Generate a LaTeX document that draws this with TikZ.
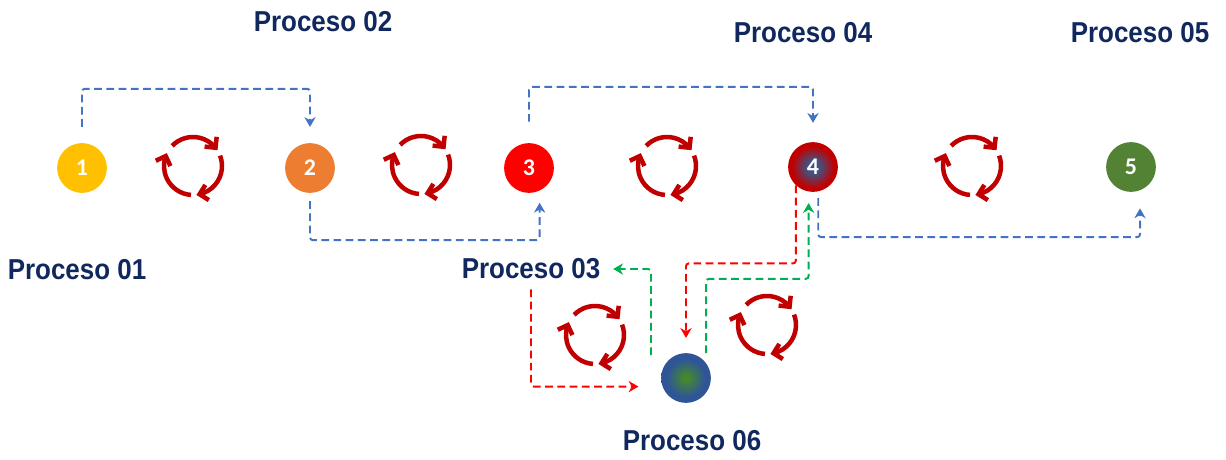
\documentclass[tikz,border=0pt]{standalone}
\usepackage{fontspec}
\usetikzlibrary{calc,arrows.meta}
\newfontfamily\fuenteEtiq[FakeStretch=0.9]{Liberation Sans}
\newfontfamily\fuenteNum{Carlito}
\definecolor{azultexto}{HTML}{11285E}
\definecolor{amarillo}{HTML}{FFC000}
\definecolor{naranja}{HTML}{ED7D31}
\definecolor{rojo}{HTML}{FF0000}
\definecolor{granate}{HTML}{C00000}
\definecolor{verde}{HTML}{548235}
\definecolor{azulproc}{HTML}{2F5597}
\definecolor{azulflecha}{HTML}{4472C4}
\definecolor{verdeflecha}{HTML}{00B050}
\definecolor{grisazul}{HTML}{44507E}
\definecolor{verdeclaro}{HTML}{458A2A}
\pgfdeclareradialshading{brillocuatro}{\pgfpoint{0bp}{0bp}}{color(0bp)=(grisazul); color(7bp)=(grisazul); color(21bp)=(granate); color(50bp)=(granate)}
\pgfdeclareradialshading{brilloseis}{\pgfpoint{0bp}{0bp}}{color(0bp)=(verdeclaro); color(2bp)=(verdeclaro); color(19bp)=(azulproc); color(50bp)=(azulproc)}

\tikzset{
  anillo/.style={draw=granate,line width=3.2pt},
  punta/.style={draw=granate,line width=3.2pt,line join=miter},
  ciclo/.pic={
    \begin{scope}[yscale=-1]
    \foreach \a/\b in {136/39,21/-77,-94/-200}{
      \draw[anillo] (\a:29) arc[start angle=\a,end angle=\b,radius=29];
      \draw[punta] ($(\b:29)+(\b+45:11)$) -- (\b:29) -- ($(\b:29)+(\b+135:11)$);
    }
    \end{scope}
  }
}

\begin{document}
\begin{tikzpicture}[x=0.025cm,y=-0.025cm,
  proc/.style={circle,inner sep=0pt,minimum size=35.4pt,text=white,font=\fuenteNum\bfseries\fontsize{17}{19}\selectfont},
  etiqueta/.style={inner sep=0pt,text=azultexto,font=\fuenteEtiq\bfseries\fontsize{20.5}{24}\selectfont},
  enlace/.style={line width=1.4pt,dash pattern=on 5.5pt off 3.2pt,rounded corners=2pt,-{Stealth[length=7pt,width=8pt]}}]
\useasboundingbox (0,0) rectangle (1226,460);

% procesos
\node[proc,fill=amarillo] at (82,168) (p1) {1};
\node[proc,fill=naranja] at (310,168) (p2) {2};
\node[proc,fill=rojo] at (529,168) (p3) {3};
\node[proc,shading=brillocuatro] at (813,167) (p4) {4};
\node[proc,fill=verde] at (1131,167) (p5) {5};
\node[proc,shading=brilloseis] at (686,378) (p6) {};

% etiquetas
\node[etiqueta] at (77,270) (l1) {Proceso 01};
\node[etiqueta] at (323,22) (l2) {Proceso 02};
\node[etiqueta] at (531,269) (l3) {Proceso 03};
\node[etiqueta] at (803,33) (l4) {Proceso 04};
\node[etiqueta] at (1140,33) (l5) {Proceso 05};
\node[etiqueta] at (692,441) (l6) {Proceso 06};

% ciclos
\pic at (193,166) {ciclo};
\pic at (421,165) {ciclo};
\pic at (667,166) {ciclo};
\pic at (972,166) {ciclo};
\pic at (595,335) {ciclo};
\pic at (767,325) {ciclo};

% enlaces
\coordinate (g1) at (651,355);
\draw[enlace,azulflecha,shorten <=11.3pt,shorten >=11.3pt] (p1.north) -- ++(0,-54) -| (p2.north);
\draw[enlace,azulflecha,shorten <=5.7pt,shorten >=8.5pt] (p2.south) -- ++(0,47) -| (p3.-65);
\draw[enlace,azulflecha,shorten <=15pt,shorten >=13.5pt] (p3.north) -- ++(0,-56) -| (p4.north);
\draw[enlace,azulflecha,shorten <=4.6pt,shorten >=12.7pt] (p4.-78) -- ++(0,45.5) -| (p5.-69);
\draw[enlace,rojo,shorten >=10.6pt] (p4.-133) -- ++(0,78) -| (p6.north);
\draw[enlace,verdeflecha,shorten <=7pt,shorten >=8pt] (p6.37) -- ++(0,-84) -| (p4.-100);
\draw[enlace,verdeflecha,shorten >=9pt] (g1) |- (l3.east);
\draw[enlace,rojo,shorten <=7pt,shorten >=17pt] (l3.south) |- (p6.200);
\end{tikzpicture}
\end{document}
